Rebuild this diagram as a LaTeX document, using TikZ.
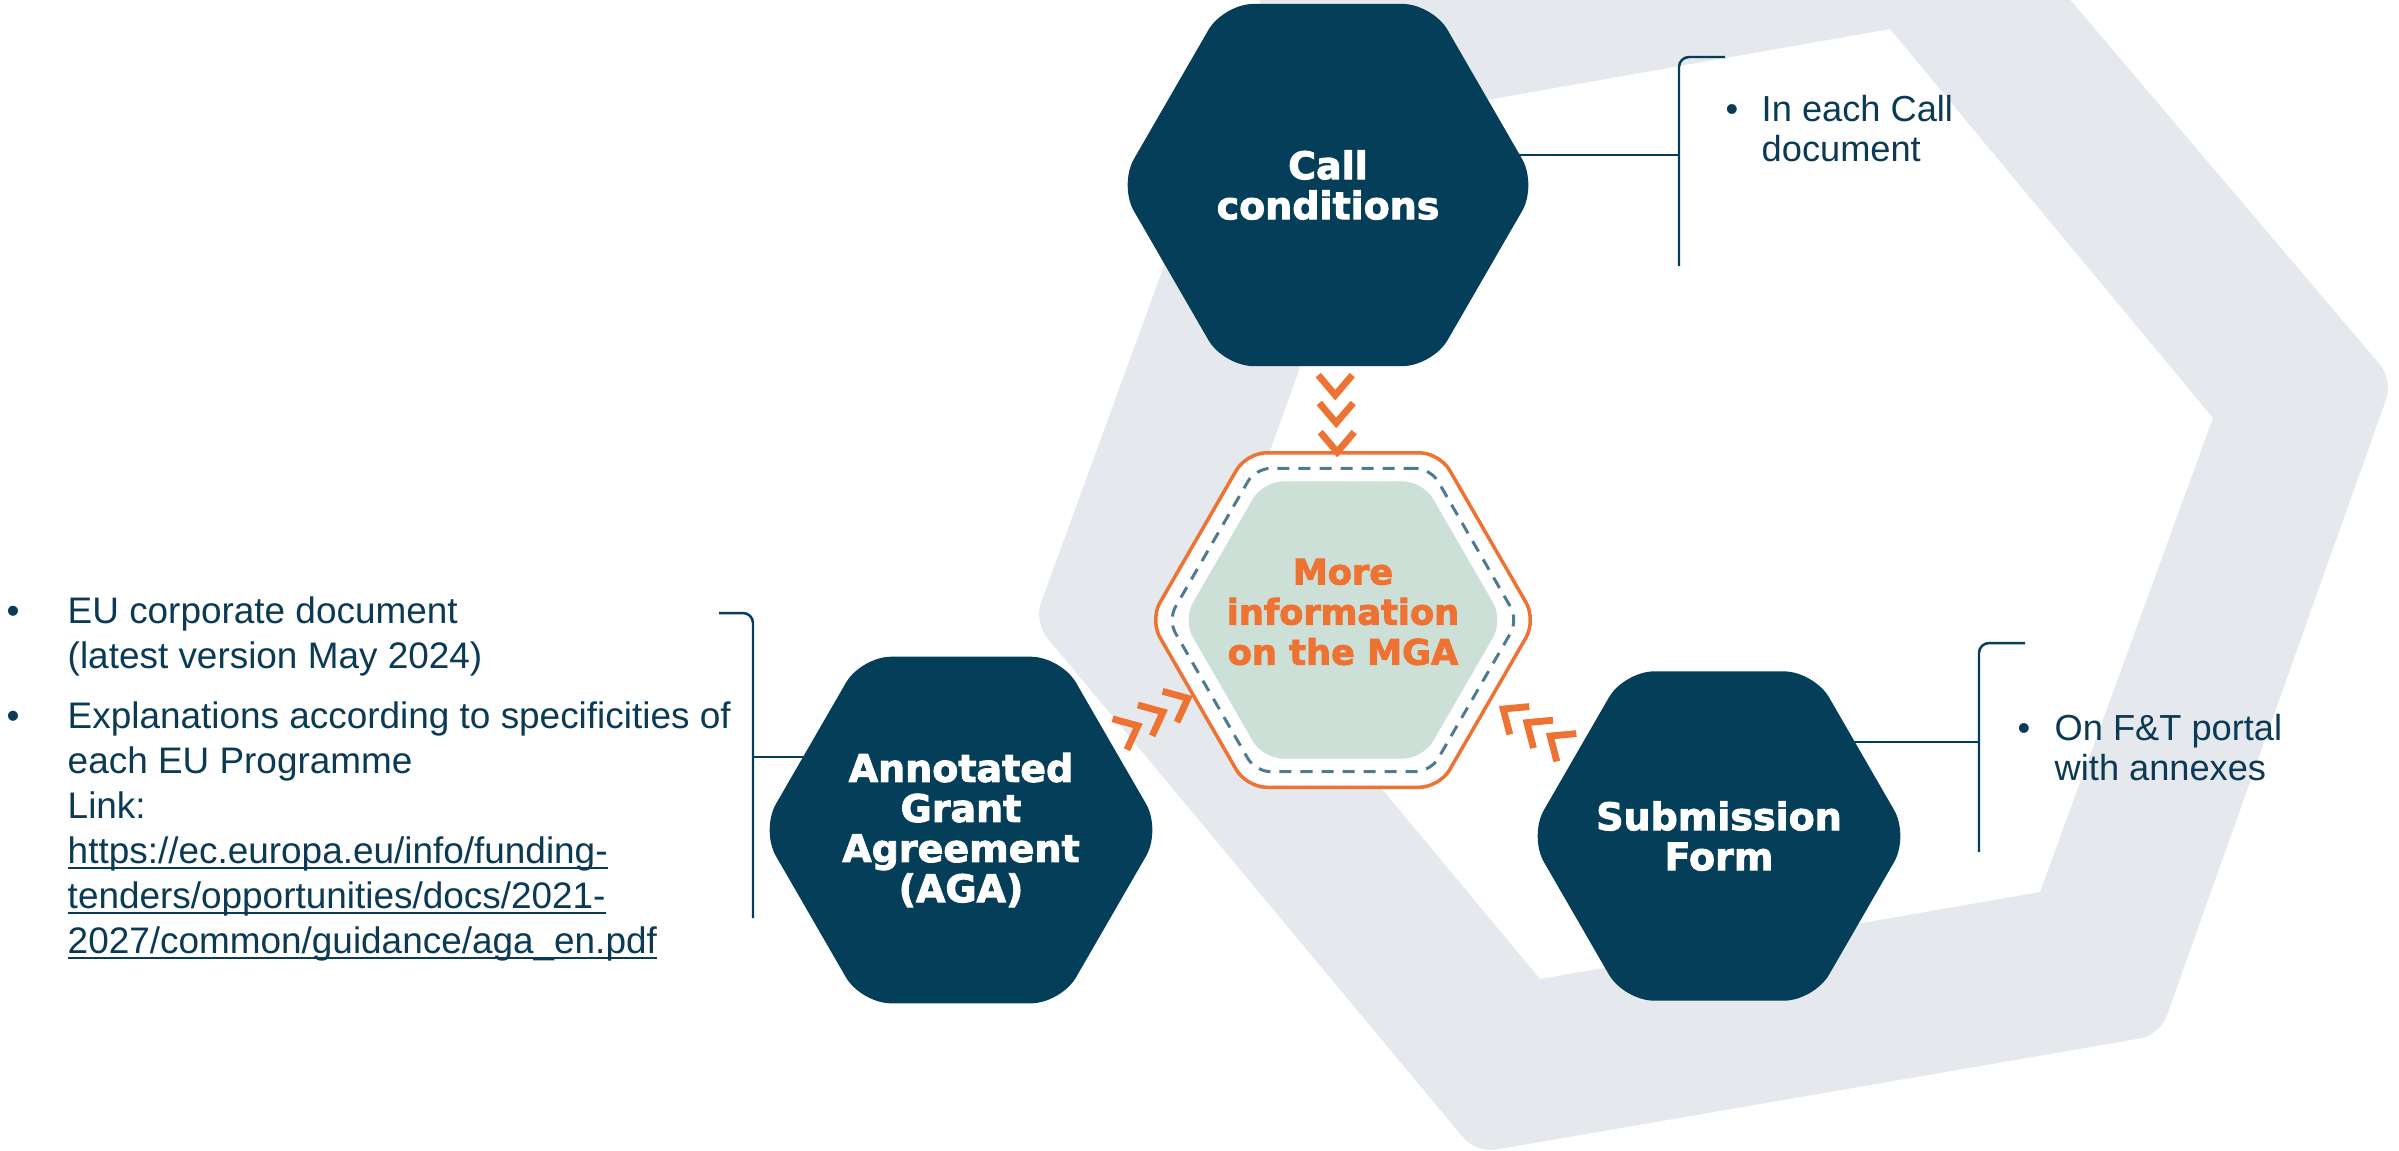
\documentclass[tikz,border=0pt]{standalone}
\usepackage{fontspec}
\setmainfont{Liberation Sans}
\newfontfamily\hexfont{DejaVu Sans}[BoldFeatures={FakeBold=2.5}]
\usetikzlibrary{shapes.geometric, calc, backgrounds}
\definecolor{ecNavy}{HTML}{043E58}
\definecolor{ecInk}{HTML}{0B3A55}
\definecolor{ecOrange}{HTML}{EE7231}
\definecolor{ecMint}{HTML}{CCE0D8}
\definecolor{ecDash}{HTML}{4E7B90}
\definecolor{ecBand}{HTML}{E5E8EC}

\newcommand{\ulink}[1]{\setbox0\hbox{#1}\rlap{\rule[-1.8pt]{\wd0}{0.6pt}}\box0}

\begin{document}
\begin{tikzpicture}[x=0.01cm, y=-0.01cm,
  hexbox/.style={shape=regular polygon, regular polygon sides=6, fill=ecNavy, rounded corners=0.3cm, inner sep=-0.2cm, align=center, text=white, font=\hexfont\bfseries\fontsize{10.8}{11.4}\selectfont},
  ringbox/.style={shape=regular polygon, regular polygon sides=6, inner sep=0pt},
  link/.style={draw=ecNavy, line width=0.7pt},
  note/.style={inner sep=0pt, anchor=base west, text=ecInk},
  chevline/.style={draw=ecOrange, line width=0.068cm, line join=miter},
  chevron/.pic={\draw[chevline] (-20,-17) -- (0,0) -- (-20,17);}
]
\useasboundingbox (0,0) rectangle (2399,1150);

% grey hexagonal band behind everything
\begin{scope}[on background layer]
  \clip (0,0) rectangle (2399,1150);
  \fill[ecBand, even odd rule]
    [rounded corners=0.2cm] (1270,-25) -- (1949,-143) -- (2393,380) -- (2160,1035) -- (1476,1153) -- (1034,622) -- cycle
    [sharp corners] (1390,117) -- (1890,29) -- (2213,418) -- (2040,892) -- (1540,979) -- (1219,593) -- cycle;
\end{scope}

\node[hexbox, minimum size=4.18cm] (call) at (1328,185) {Call\\conditions};
\node[hexbox, minimum size=4.0cm] (aga) at (961,830) {Annotated\\Grant\\Agreement\\(AGA)};
\node[hexbox, minimum size=3.8cm] (sub) at (1719,836) {Submission\\Form};

\node[ringbox, minimum size=3.86cm, draw=ecOrange, line width=0.035cm, fill=white, rounded corners=0.2cm] (mgaring) at (1343,620) {};
\node[ringbox, minimum size=3.5cm, draw=ecDash, line width=0.03cm, dash pattern=on 0.12cm off 0.09cm, rounded corners=0.15cm] (mgadash) at (mgaring) {};
\node[ringbox, minimum size=3.2cm, fill=ecMint, rounded corners=0.2cm] (mga) at (mgaring) {};
\node[align=center, inner sep=0pt, text=ecOrange, font=\hexfont\bfseries\fontsize{10}{11.4}\selectfont] (mgalabel) at (1343,612) {More\\information\\on the MGA};

% brackets
\coordinate (callbr) at (1679,155);
\coordinate (subbr) at (1979,742);
\coordinate (agabr) at (753,757);
\begin{scope}[on background layer]
  \draw[link] (call.center |- callbr) -- (callbr);
  \draw[link] (sub.center |- subbr) -- (subbr);
  \draw[link] (aga.center |- agabr) -- (agabr);
  \draw[link, rounded corners=0.1cm] (callbr) ++(0,111) -- ++(0,-209) -- ++(46,0);
  \draw[link, rounded corners=0.1cm] (subbr) ++(0,110) -- ++(0,-209) -- ++(46,0);
  \draw[link, rounded corners=0.1cm] (agabr) ++(0,161) -- ++(0,-305) -- ++(-34,0);
\end{scope}

\node[note, font=\fontsize{10.3}{11.4}\selectfont] (calltext) at (1725,121)
  {\begin{tabular}[t]{@{}p{0.36cm}@{}l@{}}\textbullet & In each Call\\ & document\end{tabular}};
\node[note, font=\fontsize{10.3}{11.4}\selectfont] (subtext) at (2017,740)
  {\begin{tabular}[t]{@{}p{0.37cm}@{}l@{}}\textbullet & On F\&T portal\\ & with annexes\end{tabular}};
\node[note, font=\fontsize{10.5}{12.8}\selectfont] (agatext) at (6,623)
  {\begin{tabular}[t]{@{}p{0.61cm}@{}l@{}}
  \textbullet & EU corporate document\\
  & (latest version May 2024)\\[0.15cm]
  \textbullet & Explanations according to specificities of\\
  & each EU Programme\\
  & Link:\\
  & \ulink{https://ec.europa.eu/info/funding-}\\
  & \ulink{tenders/opportunities/docs/2021-}\\
  & \ulink{2027/common/guidance/aga\_en.pdf}
  \end{tabular}};

% chevrons towards the centre
\foreach \t in {0.483,0.547,0.614}
  \pic[rotate=-90] at ($(call.center)!\t!(mga.center)$) {chevron};
\foreach \t in {0.463,0.529,0.594}
  \pic[rotate=25] at ($(aga.center)!\t!(mga.center)+(0,-7)$) {chevron};
\foreach \t in {0.449,0.511,0.574}
  \pic[rotate=145] at ($(sub.center)!\t!(mga.center)+(0,-3)$) {chevron};
\end{tikzpicture}
\end{document}
